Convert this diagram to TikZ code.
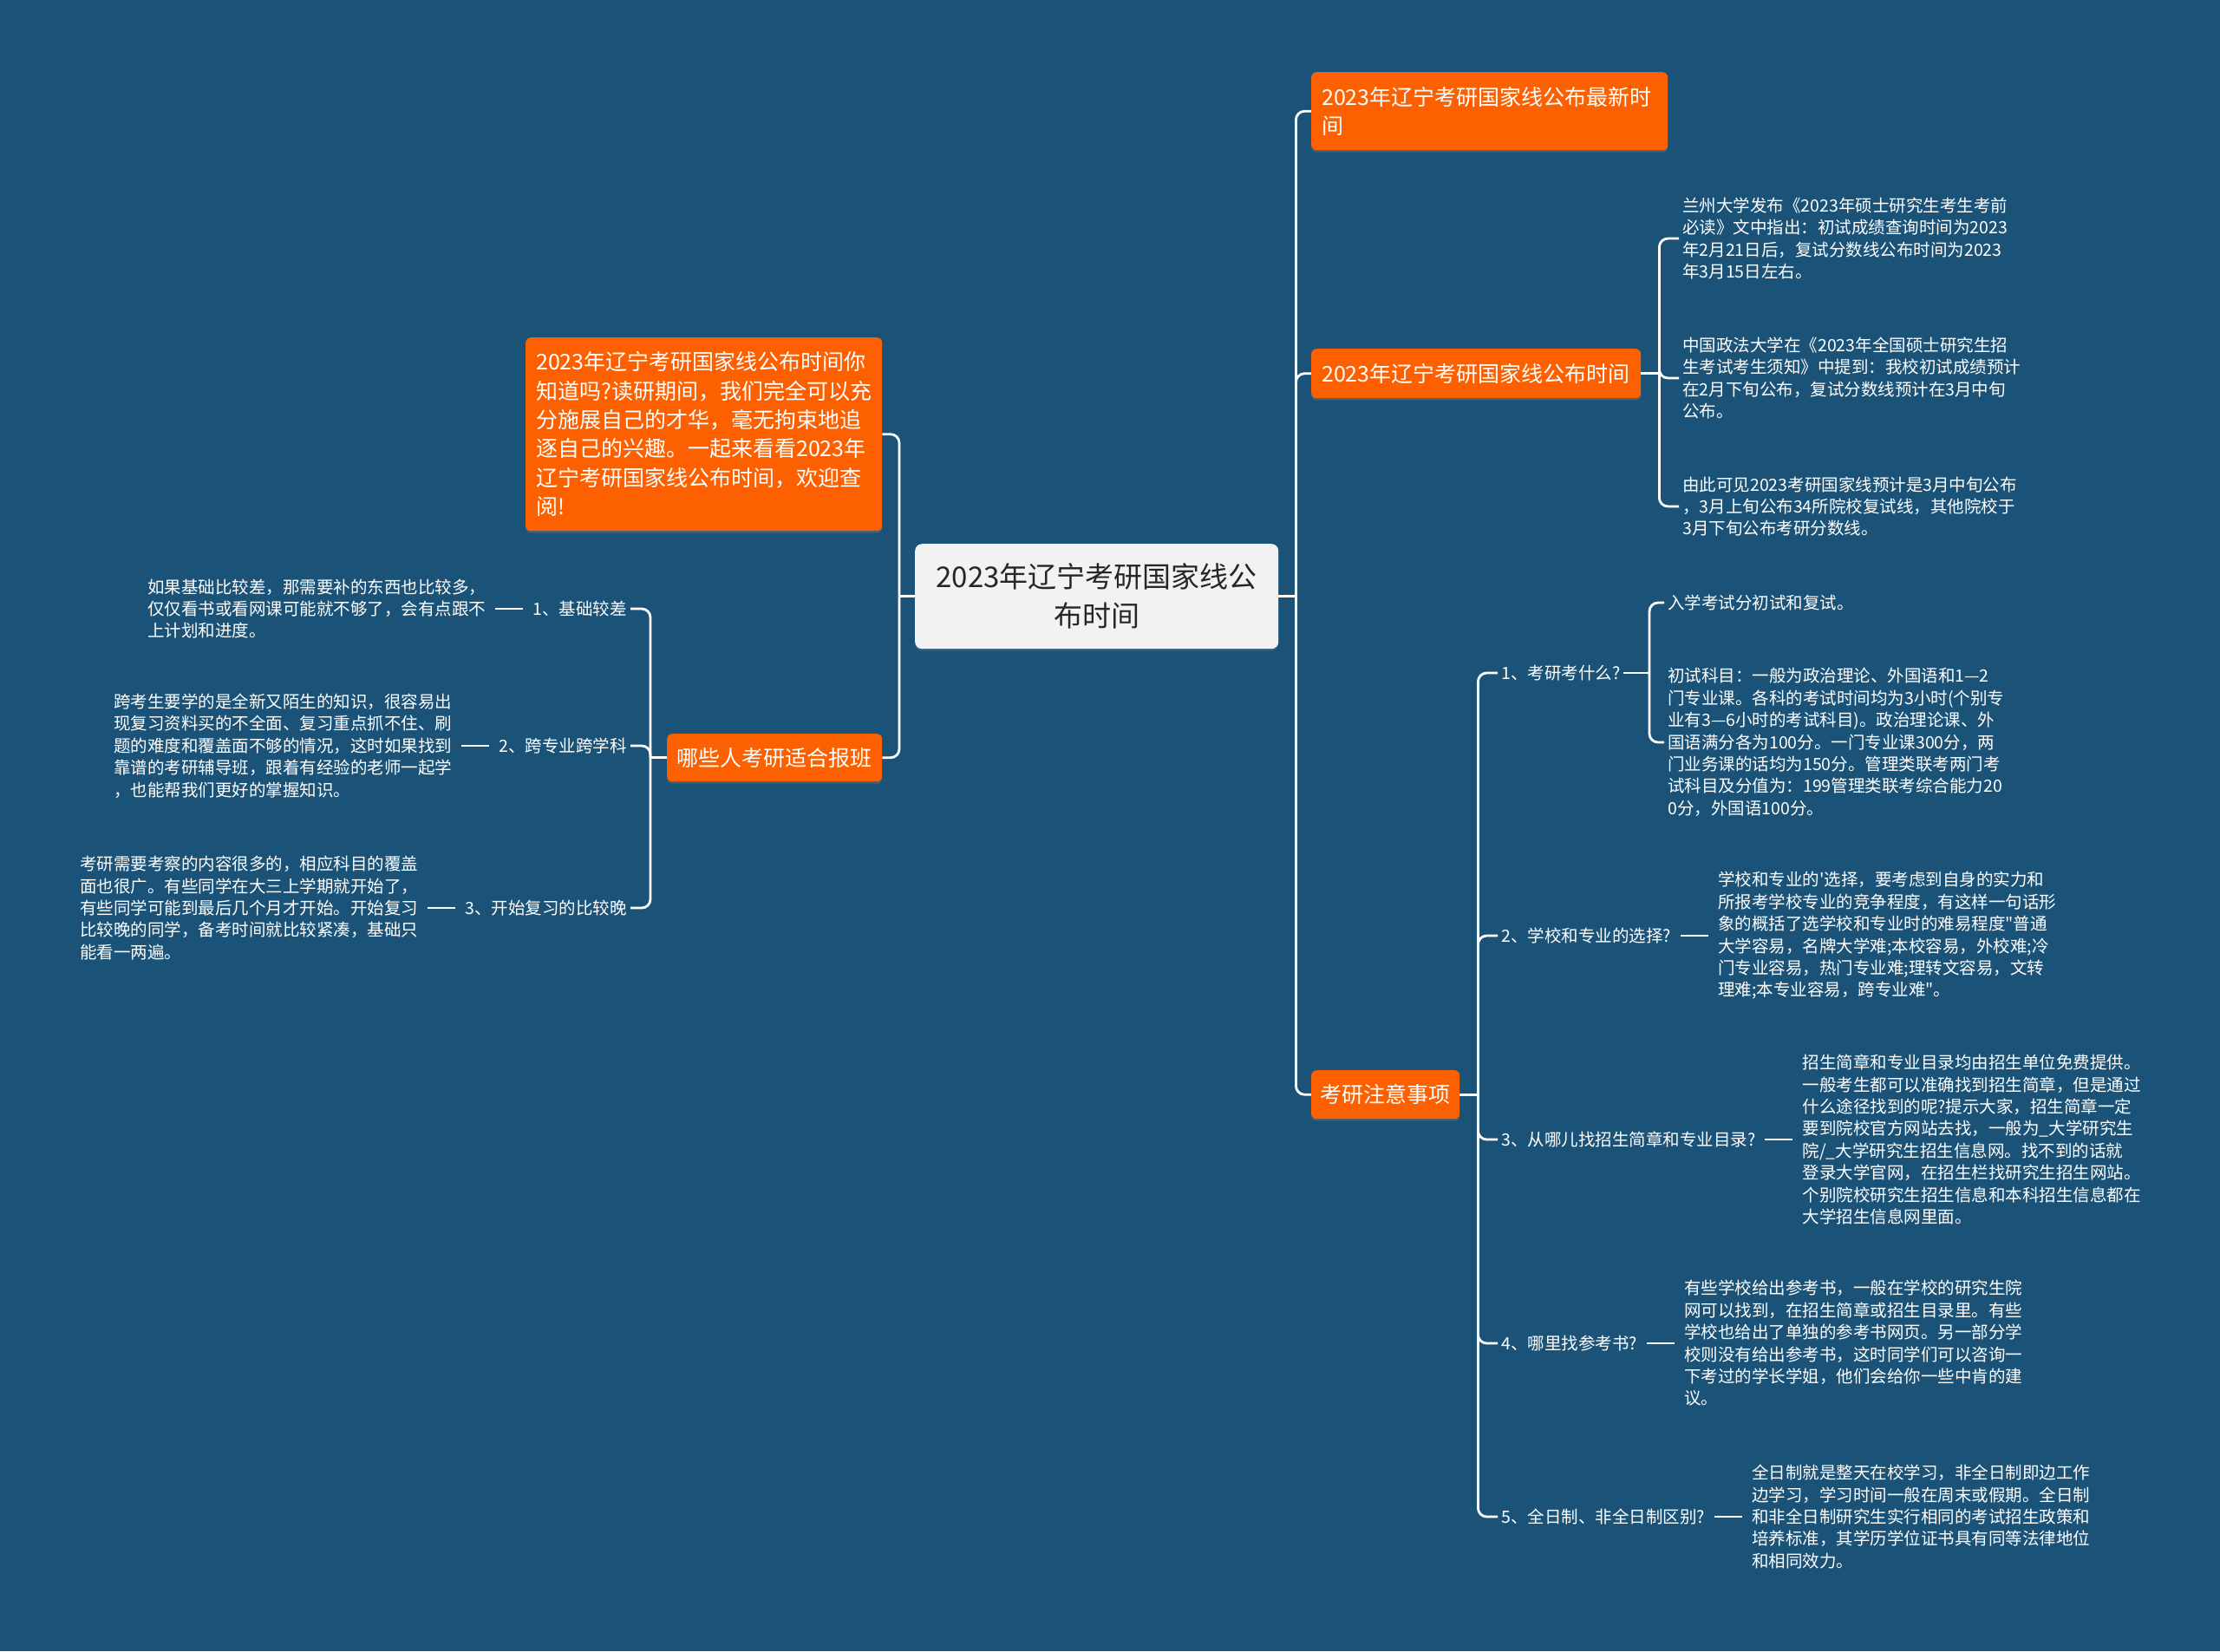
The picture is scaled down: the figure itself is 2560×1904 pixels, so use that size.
\documentclass[tikz,border=0pt]{standalone}
\usepackage{fontspec}
\setmainfont{Noto Sans CJK SC}[Ligatures=TeXOff]
\usetikzlibrary{shadows}
\definecolor{bgc}{HTML}{1B5378}
\definecolor{orgc}{HTML}{FC6000}
\definecolor{cfill}{HTML}{F2F2F2}
\definecolor{ctext}{HTML}{262626}
\pgfdeclarelayer{bglayer}
\pgfsetlayers{bglayer,main}
\tikzset{
  conn/.style={draw=white, line width=2.8pt, rounded corners=10pt},
  lline/.style={draw=white, line width=2.6pt, shorten <=7pt, shorten >=7pt},
  obox/.style={fill=orgc, rounded corners=6pt, text=white, anchor=north west,
    font=\fontsize{25}{33.4}\selectfont, align=left, inner xsep=12pt, inner ysep=4pt,
    drop shadow={opacity=0.35, shadow xshift=0pt, shadow yshift=-2.5pt}},
  cbox/.style={fill=cfill, rounded corners=8pt, text=ctext, anchor=north west,
    font=\fontsize{33}{45}\selectfont, align=center,
    drop shadow={opacity=0.25, shadow xshift=0pt, shadow yshift=-2.5pt}},
  leaf/.style={text=white, font=\fontsize{19.5}{25.4}\selectfont, align=left, inner sep=4pt},
  lab/.style={text=white, font=\fontsize{19.5}{25.4}\selectfont, align=left, inner sep=4pt},
}
\begin{document}
\begin{tikzpicture}[x=1pt,y=-1pt]
\useasboundingbox (0,0) rectangle (2560,1904);
\begin{pgfonlayer}{bglayer}
\fill[bgc] (0,0) rectangle (2560,1904);
\end{pgfonlayer}

% ---------- central node ----------
\node[cbox, minimum width=419pt, minimum height=121pt] (c) at (1055,627) {2023年辽宁考研国家线公\\布时间};

% ---------- right main branches ----------
\node[obox, text width=387pt, minimum height=90pt] (o1) at (1512,83) {2023年辽宁考研国家线公布最新时\\间};
\node[obox, text width=356pt, minimum height=57pt] (o2) at (1512,402) {2023年辽宁考研国家线公布时间};
\node[obox, text width=150pt, inner xsep=10.5pt, minimum height=56pt] (o3) at (1512,1234) {考研注意事项};

% ---------- left main branches ----------
\node[obox, text width=387pt, minimum height=223pt] (intro) at (606,389) {2023年辽宁考研国家线公布时间你\\知道吗?读研期间，我们完全可以充\\分施展自己的才华，毫无拘束地追\\逐自己的兴趣。一起来看看2023年\\辽宁考研国家线公布时间，欢迎查\\阅!};
\node[obox, text width=225pt, inner xsep=11.5pt, minimum height=55pt] (bao) at (769,846) {哪些人考研适合报班};

% ---------- left sub items ----------
\node[lab, anchor=east] (b1) at (727,702) {1、基础较差};
\node[lab, anchor=east] (b2) at (727,860) {2、跨专业跨学科};
\node[lab, anchor=east] (b3) at (727,1047) {3、开始复习的比较晚};

\node[leaf, anchor=east] (l1) at ([xshift=-46pt]b1.west) {如果基础比较差，那需要补的东西也比较多，\\仅仅看书或看网课可能就不够了，会有点跟不\\上计划和进度。};
\node[leaf, anchor=east] (l2) at ([xshift=-46pt]b2.west) {跨考生要学的是全新又陌生的知识，很容易出\\现复习资料买的不全面、复习重点抓不住、刷\\题的难度和覆盖面不够的情况，这时如果找到\\靠谱的考研辅导班，跟着有经验的老师一起学\\，也能帮我们更好的掌握知识。};
\node[leaf, anchor=east] (l3) at ([xshift=-46pt]b3.west) {考研需要考察的内容很多的，相应科目的覆盖\\面也很广。有些同学在大三上学期就开始了，\\有些同学可能到最后几个月才开始。开始复习\\比较晚的同学，备考时间就比较紧凑，基础只\\能看一两遍。};

% ---------- right: 公布时间 leaves ----------
\node[leaf, anchor=west] (t1) at (1936,275) {兰州大学发布《2023年硕士研究生考生考前\\必读》文中指出：初试成绩查询时间为2023\\年2月21日后，复试分数线公布时间为2023\\年3月15日左右。};
\node[leaf, anchor=west] (t2) at (1936,436) {中国政法大学在《2023年全国硕士研究生招\\生考试考生须知》中提到：我校初试成绩预计\\在2月下旬公布，复试分数线预计在3月中旬\\公布。};
\node[leaf, anchor=west] (t3) at (1936,584) {由此可见2023考研国家线预计是3月中旬公布\\，3月上旬公布34所院校复试线，其他院校于\\3月下旬公布考研分数线。};

% ---------- right: 考研注意事项 items ----------
\node[lab, anchor=west] (n1) at (1727,776) {1、考研考什么?};
\node[lab, anchor=west] (n2) at (1727,1079) {2、学校和专业的选择?};
\node[lab, anchor=west] (n3) at (1727,1314) {3、从哪儿找招生简章和专业目录?};
\node[lab, anchor=west] (n4) at (1727,1549) {4、哪里找参考书?};
\node[lab, anchor=west] (n5) at (1727,1749) {5、全日制、非全日制区别?};

\node[leaf, anchor=west] (m1) at (1919,695) {入学考试分初试和复试。};
\node[leaf, anchor=west] (m2) at (1919,856) {初试科目：一般为政治理论、外国语和1—2\\门专业课。各科的考试时间均为3小时(个别专\\业有3—6小时的考试科目)。政治理论课、外\\国语满分各为100分。一门专业课300分，两\\门业务课的话均为150分。管理类联考两门考\\试科目及分值为：199管理类联考综合能力20\\0分，外国语100分。};

\node[leaf, anchor=west] (p2) at ([xshift=46pt]n2.east) {学校和专业的'选择，要考虑到自身的实力和\\所报考学校专业的竞争程度，有这样一句话形\\象的概括了选学校和专业时的难易程度"普通\\大学容易，名牌大学难;本校容易，外校难;冷\\门专业容易，热门专业难;理转文容易，文转\\理难;本专业容易，跨专业难"。};
\node[leaf, anchor=west] (p3) at ([xshift=46pt]n3.east) {招生简章和专业目录均由招生单位免费提供。\\一般考生都可以准确找到招生简章，但是通过\\什么途径找到的呢?提示大家，招生简章一定\\要到院校官方网站去找，一般为\_大学研究生\\院/\_大学研究生招生信息网。找不到的话就\\登录大学官网，在招生栏找研究生招生网站。\\个别院校研究生招生信息和本科招生信息都在\\大学招生信息网里面。};
\node[leaf, anchor=west] (p4) at ([xshift=46pt]n4.east) {有些学校给出参考书，一般在学校的研究生院\\网可以找到，在招生简章或招生目录里。有些\\学校也给出了单独的参考书网页。另一部分学\\校则没有给出参考书，这时同学们可以咨询一\\下考过的学长学姐，他们会给你一些中肯的建\\议。};
\node[leaf, anchor=west] (p5) at ([xshift=46pt]n5.east) {全日制就是整天在校学习，非全日制即边工作\\边学习，学习时间一般在周末或假期。全日制\\和非全日制研究生实行相同的考试招生政策和\\培养标准，其学历学位证书具有同等法律地位\\和相同效力。};

% ---------- connectors ----------
\begin{pgfonlayer}{bglayer}
% right main spine
\draw[conn] (c.east) -- ++(20,0) coordinate (rs);
\draw[conn] (rs) |- (o1.west);
\draw[conn] (rs) |- (o2.west);
\draw[conn] (rs) |- (o3.west);
% left main spine
\draw[conn] (c.west) -- ++(-18,0) coordinate (ls);
\draw[conn] (ls) |- (intro.east);
\draw[conn] (ls) |- (bao.east);
% left sub spine
\draw[conn] (bao.west) -- ++(-19,0) coordinate (bs);
\draw[conn] (bs) |- (b1.east);
\draw[conn] (bs) |- (b2.east);
\draw[conn] (bs) |- (b3.east);
\draw[lline] (l1.east) -- (b1.west);
\draw[lline] (l2.east) -- (b2.west);
\draw[lline] (l3.east) -- (b3.west);
% o2 leaves
\draw[conn] (o2.east) -- ++(21,0) coordinate (ts);
\draw[conn] (ts) |- (t1.west);
\draw[conn] (ts) |- (t2.west);
\draw[conn] (ts) |- (t3.west);
% o3 items
\draw[conn] (o3.east) -- ++(21,0) coordinate (ns);
\draw[conn] (ns) |- (n1.west);
\draw[conn] (ns) |- (n2.west);
\draw[conn] (ns) |- (n3.west);
\draw[conn] (ns) |- (n4.west);
\draw[conn] (ns) |- (n5.west);
% n1 leaves
\draw[conn] (n1.east) -- (1902,776) coordinate (n1s);
\draw[conn] (n1s) |- (m1.west);
\draw[conn] (n1s) |- (m2.west);
% n2..n5 leaves
\draw[lline] (n2.east) -- (p2.west);
\draw[lline] (n3.east) -- (p3.west);
\draw[lline] (n4.east) -- (p4.west);
\draw[lline] (n5.east) -- (p5.west);
\end{pgfonlayer}
\end{tikzpicture}
\end{document}
